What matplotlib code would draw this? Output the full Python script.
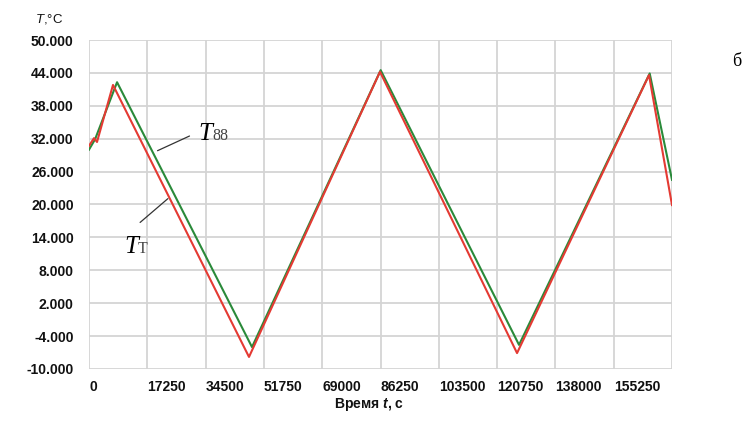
"""
Temperature vs time: T_T (red) and T_88 (green), panel "б".
"""

import matplotlib

matplotlib.use("Agg")
import matplotlib.pyplot as plt

# values
time_tt = [0, 1480, 2370, 7100, 47340, 86100, 126650, 165700, 172500]
temp_tt = [30.7, 32.1, 31.4, 41.8, -7.8, 44.2, -7.1, 43.6, 19.9]

time_88 = [0, 1800, 8300, 48230, 86300, 127240, 165900, 172500]
temp_88 = [30.0, 31.9, 42.3, -6.0, 44.5, -5.6, 43.9, 24.5]

x_ticks = [0, 17250, 34500, 51750, 69000, 86250, 103500, 120750, 138000, 155250]
y_ticks = [50, 44, 38, 32, 26, 20, 14, 8, 2, -4, -10]

plt.rcParams["font.family"] = ["Liberation Sans", "DejaVu Sans"]
plt.rcParams["mathtext.fontset"] = "custom"
plt.rcParams["mathtext.rm"] = "Liberation Sans"
plt.rcParams["mathtext.it"] = "Liberation Sans:italic"
plt.rcParams["mathtext.bfit"] = "Liberation Sans:italic:bold"

W, H = 744, 444
fig = plt.figure(figsize=(W / 100, H / 100), dpi=100)
ax = fig.add_axes([89 / W, 1 - 369 / H, (672 - 89) / W, (369 - 40) / H])

grid_c = "#d4d4d4"
ax.set_xlim(0, 172500)
ax.set_ylim(-10, 50)
for s in ax.spines.values():
    s.set_visible(False)
for xv in x_ticks + [172500]:
    ax.axvline(xv, color=grid_c, lw=1.3, zorder=0)
for yv in y_ticks:
    ax.axhline(yv, color=grid_c, lw=1.3, zorder=0)

ax.plot(time_88, temp_88, color="#2a8a3a", lw=1.5, zorder=2)
ax.plot(time_tt, temp_tt, color="#e43a33", lw=1.5, zorder=3)

ax.set_xticks(x_ticks)
ax.set_xticklabels([str(v) for v in x_ticks], ha="left")
ax.set_yticks(y_ticks)
ax.set_yticklabels([f"{v}.000" for v in y_ticks])
ax.tick_params(length=0, labelsize=10, colors="#111111")
ax.tick_params(axis="y", pad=11)
ax.tick_params(axis="x", pad=8)
for lab in ax.get_xticklabels() + ax.get_yticklabels():
    lab.set_fontweight("bold")

fig.text(334 / W, 1 - 404 / H, r"Время $\mathbfit{t}$, с", fontsize=10,
         fontweight="bold", va="center", ha="left", color="#111111")
fig.text(35 / W, 1 - 19 / H, r"$T$,°C", fontsize=9.5, va="center",
         ha="left", color="#111111")
fig.text(737 / W, 1 - 62 / H, "б", fontsize=13, family="Liberation Serif",
         ha="center", va="center")

# curve labels with leader lines
serif = "Liberation Serif"
ax.annotate("", xy=(19530, 29.6), xytext=(30480, 32.7),
            arrowprops=dict(arrowstyle="-", color="#333333", lw=0.9))
ax.text(32300, 31.76, "T", fontsize=18, family=serif, style="italic",
        va="baseline", ha="left")
ax.text(36600, 31.76, "88", fontsize=11.5, family=serif,
        va="baseline", ha="left", color="#444444")

ax.annotate("", xy=(23970, 21.4), xytext=(14500, 16.4),
            arrowprops=dict(arrowstyle="-", color="#333333", lw=0.9))
ax.text(10400, 11.15, "T", fontsize=18, family=serif, style="italic",
        va="baseline", ha="left")
ax.text(14400, 11.15, "T", fontsize=11.5, family=serif,
        va="baseline", ha="left", color="#444444")

fig.savefig("out.png", dpi=100)
